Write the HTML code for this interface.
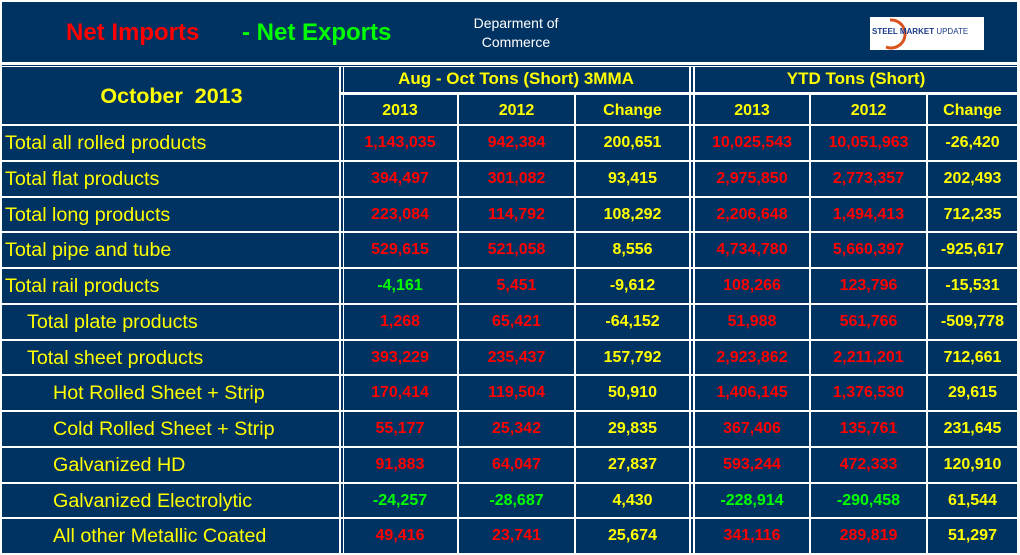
<!DOCTYPE html>
<html><head><meta charset="utf-8">
<style>
html,body{margin:0;padding:0;}
body{width:1020px;height:554px;background:#fff;position:relative;overflow:hidden;font-family:"Liberation Sans",Arial,sans-serif;}
.bg{position:absolute;left:0;top:0;width:1020px;height:554px;background:#003262;}
.hl,.vl{position:absolute;background:#fff;}
.t{position:absolute;white-space:nowrap;}
.c{text-align:center;font-weight:bold;font-size:16px;}
.lab{color:#ffff00;font-size:19.7px;}
</style></head>
<body>
<div class="bg"></div>
<div class="t" style="left:66px;top:19px;color:#ff0000;font-size:24px;font-weight:bold;">Net Imports</div>
<div class="t" style="left:242px;top:19px;color:#00ff00;font-size:24px;font-weight:bold;">- Net Exports</div>
<div class="t" style="left:466px;top:14px;width:100px;text-align:center;color:#fff;font-size:14px;line-height:19px;">Deparment of<br>Commerce</div>
<div style="position:absolute;left:870px;top:17px;width:114px;height:33px;background:#fff;">
<svg width="114" height="33" style="position:absolute;left:0;top:0"><path d="M20 3 A14 14 0 1 1 16 30" fill="none" stroke="#d9531e" stroke-width="3"/></svg>
<span style="position:absolute;left:2px;top:10px;font-size:8px;font-weight:bold;color:#1a3a8a;white-space:nowrap;">STEEL MARKET <span style="font-weight:normal">UPDATE</span></span></div>
<div class="t" style="left:2px;top:84px;width:339px;text-align:center;color:#ffff00;font-size:21.5px;font-weight:bold;">October&nbsp; 2013</div>
<div class="t c" style="left:343px;top:69px;width:346px;color:#ffff00;font-size:17px;">Aug - Oct Tons (Short) 3MMA</div>
<div class="t c" style="left:695px;top:69px;width:322px;color:#ffff00;font-size:17px;">YTD Tons (Short)</div>
<div id="tbl"></div>
<script>
const labels=["Total all rolled products","Total flat products","Total long products","Total pipe and tube","Total rail products","Total plate products","Total sheet products","Hot Rolled Sheet + Strip","Cold Rolled Sheet + Strip","Galvanized HD","Galvanized Electrolytic","All other Metallic Coated"];
const indent=[0,0,0,0,0,1,1,2,2,2,2,2];
const m2013=[1143035,394497,223084,529615,-4161,1268,393229,170414,55177,91883,-24257,49416];
const m2012=[942384,301082,114792,521058,5451,65421,235437,119504,25342,64047,-28687,23741];
const mChg=[200651,93415,108292,8556,-9612,-64152,157792,50910,29835,27837,4430,25674];
const y2013=[10025543,2975850,2206648,4734780,108266,51988,2923862,1406145,367406,593244,-228914,341116];
const y2012=[10051963,2773357,1494413,5660397,123796,561766,2211201,1376530,135761,472333,-290458,289819];
const yChg=[-26420,202493,712235,-925617,-15531,-509778,712661,29615,231645,120910,61544,51297];
const colHeads=["2013","2012","Change","2013","2012","Change"];
const tbl=document.getElementById('tbl');
const colL=[343,459,576,695,811,928], colR=[457,574,689,809,926,1017];
const rowTop=124, rowH=35.75;
function add(cls,name,style,txt){const d=document.createElement('div');d.className=cls;d.setAttribute('style',style);if(txt!==undefined)d.textContent=txt;


tbl.appendChild(d);return d;}
function fmt(v){return v.toLocaleString('en-US');}
add('hl','frame-top','left:0;top:0;width:1020px;height:2px');
add('hl','frame-left','left:0;top:0;width:2px;height:554px');
add('hl','frame-right','left:1017px;top:0;width:3px;height:554px');
add('hl','header-divider','left:0;top:62px;width:1020px;height:3px');
add('hl','header-divider-2','left:0;top:66px;width:1020px;height:1px');
add('hl','subheader-line','left:341px;top:92px;width:679px;height:3px');
for(let i=0;i<=12;i++){add('hl','row-line','left:0;top:'+Math.round(rowTop+i*rowH)+'px;width:1020px;height:2px');}
add('vl','col-line','left:339px;top:66px;width:2px;height:488px');
add('vl','col-line','left:343px;top:66px;width:1px;height:488px');
add('vl','col-line','left:689px;top:66px;width:2px;height:488px');
add('vl','col-line','left:693px;top:66px;width:2px;height:488px');
[457,574,809,926].forEach(x=>add('vl','col-line','left:'+x+'px;top:93px;width:2px;height:461px'));
colHeads.forEach((h,j)=>add('t c','column-header','left:'+colL[j]+'px;top:102px;width:'+(colR[j]-colL[j])+'px;color:#ffff00;',h));
const cols=[m2013,m2012,mChg,y2013,y2012,yChg];
const isChg=[false,false,true,false,false,true];
labels.forEach((lab,i)=>{
  const top=rowTop+i*rowH;
  add('t lab','row-label','left:'+(5+indent[i]*22+(indent[i]==2?4:0))+'px;top:'+Math.round(top+8)+'px;',lab);
  cols.forEach((arr,j)=>{
    const v=arr[i];
    const col=isChg[j]?'#ffff00':(v<0?'#00ff00':'#ff0000');
    add('t c','value-cell','left:'+colL[j]+'px;top:'+Math.round(top+10)+'px;width:'+(colR[j]-colL[j])+'px;color:'+col+';',fmt(v));
  });
});
</script>
</body></html>
